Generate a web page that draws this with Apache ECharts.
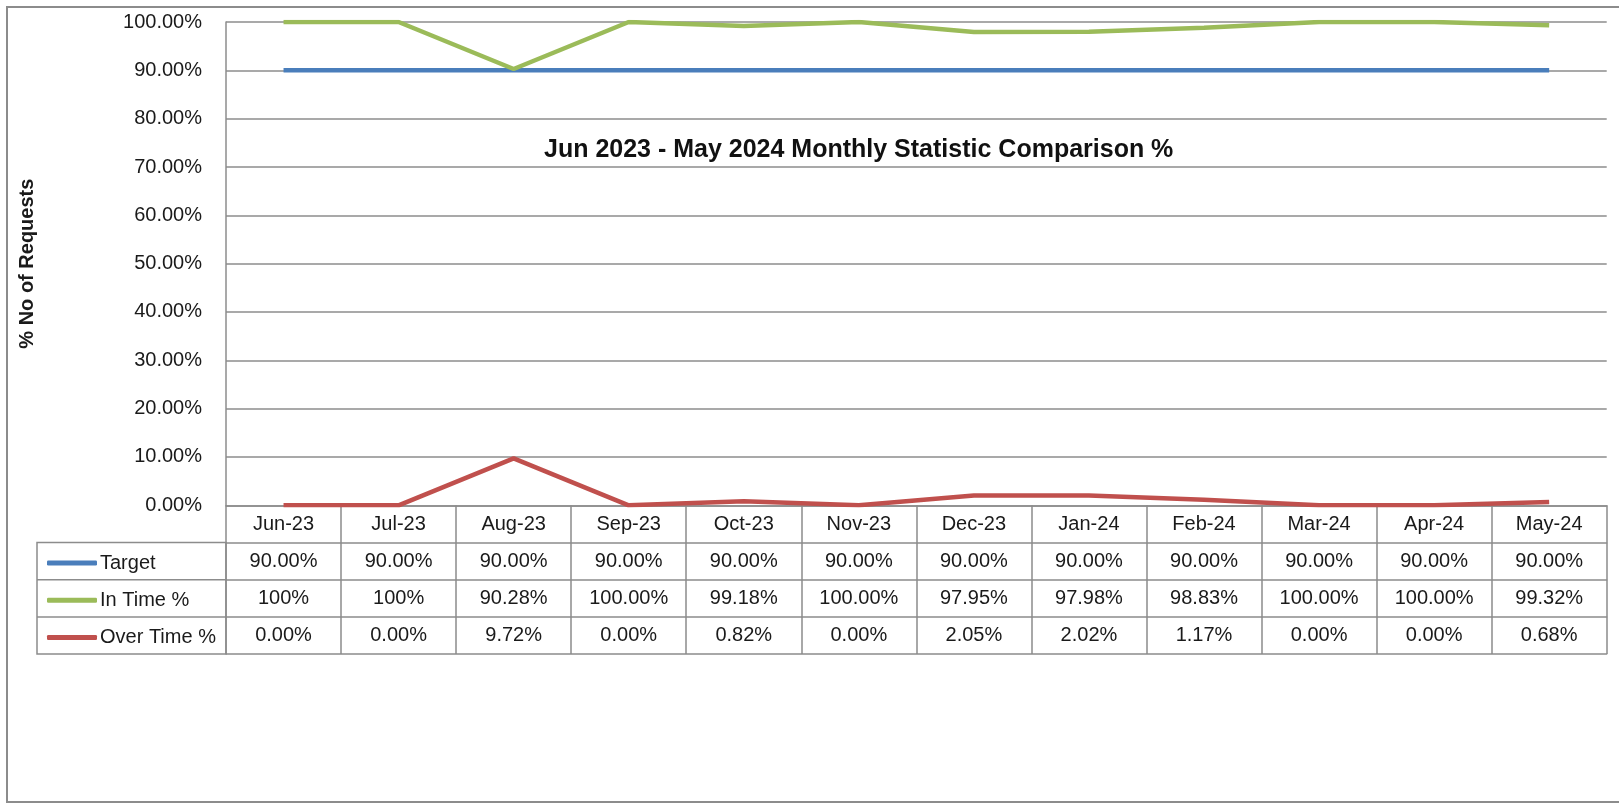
<!DOCTYPE html>
<html>
<head>
<meta charset="utf-8">
<script src="https://cdn.jsdelivr.net/npm/echarts@6/dist/echarts.min.js"></script>
<style>
  html, body { margin: 0; padding: 0; background: #fff; }
  #main { width: 1619px; height: 804px; }
</style>
</head>
<body>
<div id="main"></div>
<script>
// data
const months = ['Jun-23', 'Jul-23', 'Aug-23', 'Sep-23', 'Oct-23', 'Nov-23', 'Dec-23', 'Jan-24', 'Feb-24', 'Mar-24', 'Apr-24', 'May-24']
const target = [90, 90, 90, 90, 90, 90, 90, 90, 90, 90, 90, 90]
const inTime = [100, 100, 90.28, 100, 99.18, 100, 97.95, 97.98, 98.83, 100, 100, 99.32]
const overTime = [0, 0, 9.72, 0, 0.82, 0, 2.05, 2.02, 1.17, 0, 0, 0.68]
// table labels as printed under the chart
const targetLabels = ['90.00%', '90.00%', '90.00%', '90.00%', '90.00%', '90.00%', '90.00%', '90.00%', '90.00%', '90.00%', '90.00%', '90.00%']
const inTimeLabels = ['100%', '100%', '90.28%', '100.00%', '99.18%', '100.00%', '97.95%', '97.98%', '98.83%', '100.00%', '100.00%', '99.32%']
const overTimeLabels = ['0.00%', '0.00%', '9.72%', '0.00%', '0.82%', '0.00%', '2.05%', '2.02%', '1.17%', '0.00%', '0.00%', '0.68%']

const seriesNames = ['Target', 'In Time %', 'Over Time %']
const colors = ['#4a7ebb', '#9bbb59', '#c0504d']

const FONT = "'Liberation Sans', Arial, sans-serif"
const lineGray = '#8c8c8c'
const textColor = '#1a1a1a'
const rowH = 37.2

const chart = echarts.init(document.getElementById('main'))

// one extra x axis per table row, its axis line is the row's bottom border
const tableAxis = (labels, k) => ({
  type: 'category',
  data: months,
  position: 'bottom',
  offset: rowH * k,
  axisLine: { show: true, lineStyle: { color: lineGray, width: 1.5 } },
  axisTick: { show: false },
  axisLabel: {
    show: !!labels,
    interval: 0,
    margin: 9,
    fontFamily: FONT,
    fontSize: 20,
    color: textColor,
    formatter: (v, i) => (labels ? labels[i] : '')
  }
})

const legendAt = (idx) => ({
  data: [seriesNames[idx]],
  left: 42,
  top: 505.3 + rowH * (idx + 1.5) - 13,
  icon: 'roundRect',
  itemWidth: 50,
  itemHeight: 5,
  itemGap: 0,
  selectedMode: false,
  textStyle: { fontFamily: FONT, fontSize: 20, color: textColor, padding: [0, 0, 0, -2] }
})

const option = {
  animation: false,
  color: colors,
  title: {
    text: 'Jun 2023 - May 2024 Monthly Statistic Comparison %',
    left: 539,
    top: 133,
    textStyle: { fontFamily: FONT, fontSize: 25, fontWeight: 'bold', color: '#111' }
  },
  legend: [legendAt(0), legendAt(1), legendAt(2)],
  grid: { left: 226, right: 12.3, top: 22, bottom: 298.7, containLabel: false },
  xAxis: [
    {
      type: 'category',
      data: months,
      position: 'bottom',
      axisLine: { show: true, lineStyle: { color: lineGray, width: 1.5 } },
      // ticks between categories drawn down through the whole table
      axisTick: { show: true, interval: 0, length: rowH * 4, lineStyle: { color: lineGray, width: 1.5 } },
      axisLabel: { interval: 0, margin: 9, fontFamily: FONT, fontSize: 20, color: textColor }
    },
    tableAxis(targetLabels, 1),
    tableAxis(inTimeLabels, 2),
    tableAxis(overTimeLabels, 3),
    tableAxis(null, 4)
  ],
  yAxis: {
    type: 'value',
    min: 0,
    max: 100,
    interval: 10,
    name: '% No of Requests',
    nameLocation: 'middle',
    nameRotate: 90,
    nameGap: 189,
    nameTextStyle: { fontFamily: FONT, fontSize: 20, fontWeight: 'bold', color: textColor },
    axisLine: { show: true, lineStyle: { color: lineGray, width: 1.5 } },
    axisTick: { show: false },
    splitLine: { lineStyle: { color: lineGray, width: 1.5 } },
    axisLabel: {
      margin: 24,
      fontFamily: FONT,
      fontSize: 20,
      color: textColor,
      formatter: v => v.toFixed(2) + '%'
    }
  },
  series: [
    { name: seriesNames[0], type: 'line', data: target, symbol: 'none', lineStyle: { width: 4.5 }, z: 3 },
    { name: seriesNames[1], type: 'line', data: inTime, symbol: 'none', lineStyle: { width: 4.5 }, z: 3 },
    { name: seriesNames[2], type: 'line', data: overTime, symbol: 'none', lineStyle: { width: 4.5 }, z: 3 }
  ],
  graphic: [
    // outer chart frame
    { type: 'rect', shape: { x: 7, y: 7, width: 1630, height: 795 }, style: { fill: null, stroke: lineGray, lineWidth: 2 }, silent: true },
    // legend column of the data table
    { type: 'rect', shape: { x: 37, y: 505.3 + rowH, width: 189, height: rowH * 3 }, style: { fill: null, stroke: lineGray, lineWidth: 1.5 }, silent: true },
    { type: 'line', shape: { x1: 37, y1: 505.3 + rowH * 2, x2: 226, y2: 505.3 + rowH * 2 }, style: { stroke: lineGray, lineWidth: 1.5 }, silent: true },
    { type: 'line', shape: { x1: 37, y1: 505.3 + rowH * 3, x2: 226, y2: 505.3 + rowH * 3 }, style: { stroke: lineGray, lineWidth: 1.5 }, silent: true }
  ]
}

option && chart.setOption(option)
</script>
</body>
</html>
